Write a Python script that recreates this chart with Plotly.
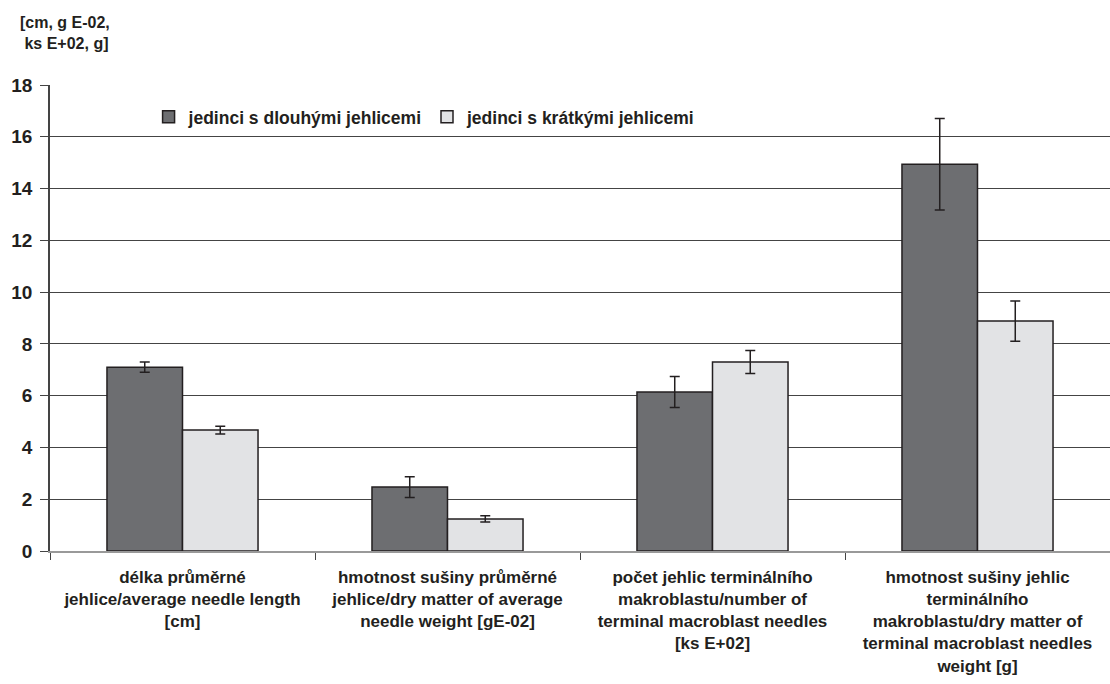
import plotly.graph_objects as go

categories = [
    "délka průměrné<br>jehlice/average needle length<br>[cm]",
    "hmotnost sušiny průměrné<br>jehlice/dry matter of average<br>needle weight [gE-02]",
    "počet jehlic terminálního<br>makroblastu/number of<br>terminal macroblast needles<br>[ks E+02]",
    "hmotnost sušiny jehlic<br>terminálního<br>makroblastu/dry matter of<br>terminal macroblast needles<br>weight [g]",
]
series_names = ["jedinci s dlouhými jehlicemi", "jedinci s krátkými jehlicemi"]
long_vals = [7.10, 2.47, 6.14, 14.94]
long_err = [0.20, 0.40, 0.60, 1.77]
short_vals = [4.67, 1.24, 7.30, 8.88]
short_err = [0.15, 0.12, 0.44, 0.78]
y_ticks = [0, 2, 4, 6, 8, 10, 12, 14, 16, 18]

FONT = "Liberation Sans, Arial, sans-serif"
EDGE = "#231f20"

fig = go.Figure()
for name, vals, errs, col in [
    (series_names[0], long_vals, long_err, "#6d6e71"),
    (series_names[1], short_vals, short_err, "#e2e3e5"),
]:
    fig.add_trace(go.Bar(
        x=categories, y=vals, name=name,
        marker=dict(color=col, line=dict(color=EDGE, width=1.5)),
        error_y=dict(type="data", array=errs, visible=True,
                     color=EDGE, thickness=1.5, width=5),
    ))

fig.update_layout(
    width=1110, height=684,
    barmode="group", bargap=0.43, bargroupgap=0,
    plot_bgcolor="white", paper_bgcolor="white",
    margin=dict(l=50, r=0, t=85, b=133, autoexpand=False),
    font=dict(family=FONT, color="#231f20"),
    showlegend=True,
    legend=dict(orientation="h", x=0.093, y=0.97, xanchor="left", yanchor="top",
                font=dict(size=17.5, weight="bold", family=FONT),
                bgcolor="rgba(0,0,0,0)", itemwidth=30, tracegroupgap=0),
    annotations=[dict(text="[cm, g E-02,<br> ks E+02, g]", xref="paper", yref="paper",
                      x=-0.030, y=1.157, xanchor="left", yanchor="top", showarrow=False,
                      align="left", font=dict(size=16, weight="bold", family=FONT))],
)
fig.update_yaxes(
    range=[0, 18], tickvals=y_ticks, showgrid=True, gridcolor="#444", gridwidth=1,
    showline=True, linecolor="#444", linewidth=1.5, ticks="outside", ticklen=8,
    tickcolor="#444", tickfont=dict(size=19, weight="bold", family=FONT),
    ticklabelstandoff=4, zeroline=False, automargin=False,
)
fig.update_xaxes(
    showline=True, linecolor="#999", linewidth=1.5, ticks="outside", ticklen=7,
    tickcolor="#444", tickson="boundaries", automargin=False, ticklabelstandoff=10,
    tickfont=dict(size=17, weight="bold", family=FONT),
)
fig.write_html("out.html", config={"displayModeBar": False},
               post_script="document.body.style.margin='0';")
